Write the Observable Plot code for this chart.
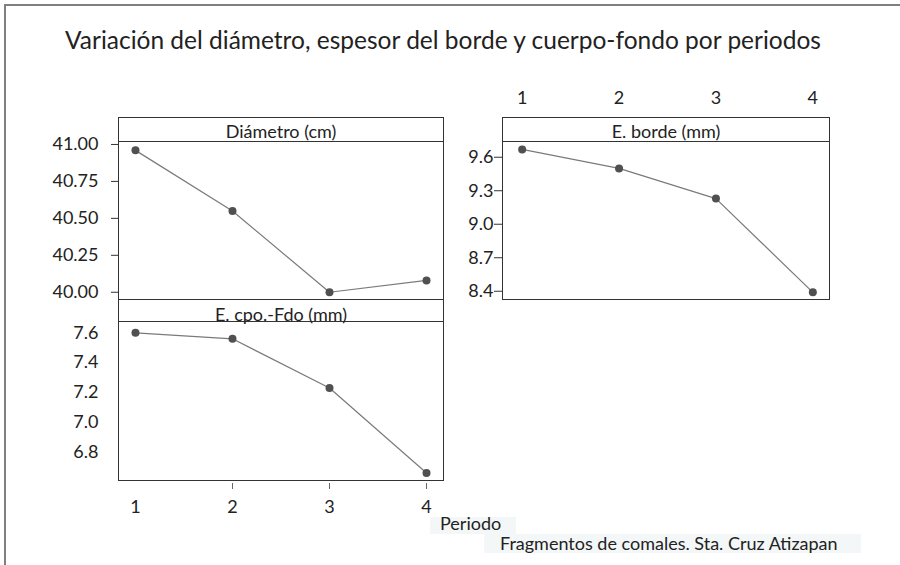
<!DOCTYPE html>
<html>
<head>
<meta charset="utf-8">
<script src="https://cdn.jsdelivr.net/npm/d3@7"></script>
<script src="https://cdn.jsdelivr.net/npm/@observablehq/plot@0.6"></script>
<style>
  html, body { margin: 0; padding: 0; background: #fff; }
  #chart { position: relative; width: 900px; height: 565px; overflow: hidden; font-family: Lato, "Open Sans", sans-serif; color: #222; }
  .frame-outer { position: absolute; left: 4px; top: 4px; width: 896px; height: 561px; border-top: 2px solid #808080; border-left: 2px solid #808080; box-sizing: border-box; }
  .title { position: absolute; left: 65px; top: 28px; font-size: 24.5px; line-height: 24.5px; white-space: nowrap; }
  .strip { position: absolute; box-sizing: border-box; border: 1px solid #333; border-bottom: none; background: #fff; }
  .strip span { position: absolute; left: 0; right: 0; text-align: center; font-size: 18px; line-height: 18px; white-space: nowrap; }
  .note { position: absolute; background: #f4f7f7; font-size: 18px; line-height: 18px; white-space: nowrap; }
  .note span { position: absolute; }
</style>
</head>
<body>
<div id="chart">
  <div class="frame-outer"></div>
</div>
<script>
// ---- data ----
const periods = [1, 2, 3, 4];
const periodTicks = [1, 2, 3, 4];
const periodMarkTicks = [2, 3, 4];
const diametro = [40.96, 40.55, 40.00, 40.08];
const borde = [9.67, 9.50, 9.23, 8.39];
const cpoFdo = [7.60, 7.56, 7.23, 6.66];
const diametroTicks = [40.00, 40.25, 40.50, 40.75, 41.00];
const bordeTicks = [8.4, 8.7, 9.0, 9.3, 9.6];
const cpoTicks = [6.8, 7.0, 7.2, 7.4, 7.6];
const panelTitles = ["Diámetro (cm)", "E. borde (mm)", "E. cpo.-Fdo (mm)"];
const chartTitle = "Variación del diámetro, espesor del borde y cuerpo-fondo por periodos";
const xLabel = "Periodo";
const caption = "Fragmentos de comales. Sta. Cruz Atizapan";

const chart = document.getElementById("chart");

function addDiv(cls, css, text) {
  const d = document.createElement("div");
  d.className = cls;
  Object.assign(d.style, css);
  if (text != null) {
    const s = document.createElement("span");
    s.textContent = text;
    d.appendChild(s);
  }
  chart.appendChild(d);
  return d;
}

// title
const t = document.createElement("div");
t.className = "title";
t.textContent = chartTitle;
chart.appendChild(t);

function panel(o) {
  const data = periods.map((p, i) => ({periodo: p, valor: o.values[i]}));
  const marks = [
    Plot.frame({stroke: "#333"}),
    Plot.axisY(o.yTicks, {
      tickFormat: o.yFormat, tickSize: o.tickSize, tickPadding: o.tickPadding,
      label: null, stroke: "#333", fill: "#222"
    }),
    Plot.line(data, {x: "periodo", y: "valor", stroke: "#7a7a7a", strokeWidth: 1.2}),
    Plot.dot(data, {x: "periodo", y: "valor", r: 4, fill: "#505050", stroke: "none"}),
    ...(o.extra || [])
  ];
  const svg = Plot.plot({
    width: o.width, height: o.height,
    marginLeft: o.marginLeft, marginRight: o.marginRight,
    marginTop: o.marginTop, marginBottom: o.marginBottom,
    x: {domain: o.xDomain, axis: null},
    y: {domain: o.yDomain, axis: null},
    style: {
      position: "absolute", left: o.left + "px", top: o.top + "px",
      background: "none", overflow: "visible", fontSize: "18px",
      fontFamily: "Lato, 'Open Sans', sans-serif", color: "#222", maxWidth: "none"
    },
    marks
  });
  chart.appendChild(svg);
}

// Diámetro (top-left): frame x 118–443, y 141–299
panel({
  values: diametro, yTicks: diametroTicks, yFormat: d3.format(".2f"),
  tickSize: 7, tickPadding: 13,
  xDomain: [0.825, 4.175], yDomain: [39.951, 41.020],
  left: 0, top: 100, width: 450, height: 209,
  marginLeft: 118, marginRight: 7, marginTop: 41, marginBottom: 10
});

// E. cpo.-Fdo (bottom-left): frame x 118–443, y 321–480
panel({
  values: cpoFdo, yTicks: cpoTicks, yFormat: d3.format(".1f"),
  tickSize: 0, tickPadding: 20,
  xDomain: [0.825, 4.175], yDomain: [6.610, 7.676],
  left: 0, top: 300, width: 450, height: 230,
  marginLeft: 118, marginRight: 7, marginTop: 21, marginBottom: 50,
  extra: [
    Plot.axisX(periodMarkTicks, {anchor: "bottom", tickSize: 6, dy: 3, tickFormat: () => "", stroke: "#666", label: null}),
    Plot.axisX(periodTicks, {anchor: "bottom", tickSize: 0, tickPadding: 20, label: null, fill: "#222"})
  ]
});

// E. borde (top-right): frame x 502–829, y 141–299
panel({
  values: borde, yTicks: bordeTicks, yFormat: d3.format(".1f"),
  tickSize: 8, tickPadding: 1,
  xDomain: [0.797, 4.172], yDomain: [8.326, 9.741],
  left: 400, top: 60, width: 440, height: 249,
  marginLeft: 102, marginRight: 11, marginTop: 81, marginBottom: 10,
  extra: [
    Plot.axisX(periodTicks, {anchor: "top", tickSize: 0, tickPadding: 38, label: null, fill: "#222"})
  ]
});

// strip headers
addDiv("strip", {left: "118px", top: "117px", width: "326px", height: "24px"}, panelTitles[0])
  .firstChild.style.bottom = "1px";
addDiv("strip", {left: "502px", top: "117px", width: "328px", height: "24px"}, panelTitles[1])
  .firstChild.style.bottom = "1px";
addDiv("strip", {left: "118px", top: "299px", width: "326px", height: "22px"}, panelTitles[2])
  .firstChild.style.bottom = "-2px";

// x label and caption
addDiv("note", {left: "430px", top: "517px", width: "86px", height: "17px"}, xLabel)
  .firstChild.style.cssText = "left:10px;top:-3px;";
addDiv("note", {left: "484px", top: "534px", width: "377px", height: "19px"}, caption)
  .firstChild.style.cssText = "left:16px;top:0px;";
</script>
</body>
</html>
